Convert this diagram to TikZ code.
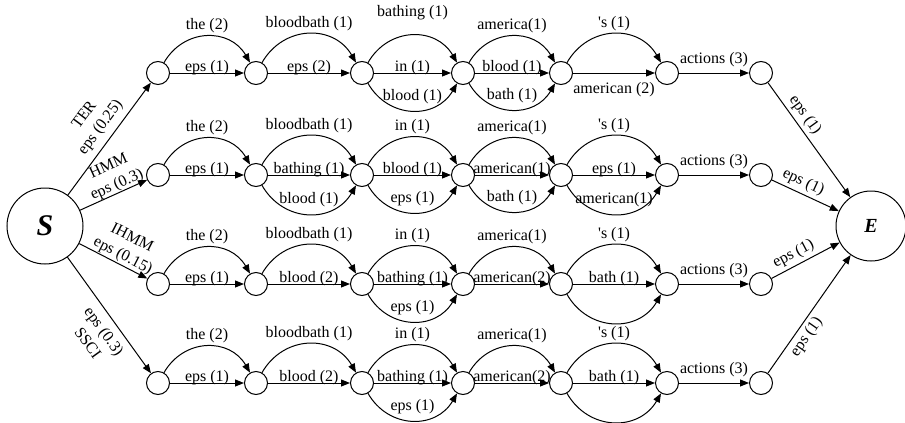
\documentclass[tikz,border=0pt]{standalone}
\usepackage{fontspec}
\setmainfont{Liberation Serif}
\usetikzlibrary{arrows.meta}
\begin{document}
\begin{tikzpicture}[x=1pt,y=1pt,line width=1pt,
  font=\fontsize{16}{21}\selectfont,
  st/.style={circle,draw,minimum size=23pt,inner sep=0pt},
  big/.style={circle,draw,inner sep=0pt,font=\bfseries\itshape},
  arr/.style={-{Triangle[length=9pt,width=7pt]}},
  top/.style={out=60,in=120,looseness=1.2},
  bot/.style={out=-60,in=-120,looseness=1.2},
  lab/.style={anchor=base,inner sep=0pt},
  lon/.style={lab,yshift=2pt},
  ltop/.style={lab,yshift=7pt},
  lbot/.style={lab,yshift=10pt},
  side/.style={sloped,align=center,font=\fontsize{16}{20}\selectfont}]
\useasboundingbox (0,0) rectangle (905,-423);
% nodes
\foreach \rw/\yy in {1/73,2/175,3/284,4/383}{
  \foreach \cl/\xx in {1/158,2/256,3/362,4/463,5/561,6/667,7/761}{
    \node[st] (r\rw n\cl) at (\xx,-\yy) {};
  }
}
\node[big,minimum size=76pt,font=\fontsize{30}{30}\selectfont\bfseries\itshape] (S) at (45,-226) {S};
\node[big,minimum size=70pt,font=\fontsize{20}{20}\selectfont\bfseries\itshape] (E) at (871,-226) {E};
% start edges
\draw[arr] (S) -- node[side,above,pos=0.53,inner sep=6pt]{TER\\eps (0.25)} (r1n1);
\draw[arr] (S) -- node[side,above,pos=0.6,inner sep=0pt]{HMM\\eps (0.3)} (r2n1);
\draw[arr] (S) -- node[side,above,pos=0.58,inner sep=1pt]{IHMM\\eps (0.15)} (r3n1);
\draw[arr] (S) -- node[side,below,pos=0.57,inner sep=7pt]{eps (0.3)\\SSCI} (r4n1);
% end edges
\draw[arr] (r1n7) -- node[sloped,above,pos=0.34]{eps (1)} (E);
\draw[arr] (r2n7) -- node[sloped,above,pos=0.4]{eps (1)} (E);
\draw[arr] (r3n7) -- node[sloped,above,pos=0.4]{eps (1)} (E);
\draw[arr] (r4n7) -- node[sloped,below,pos=0.36]{eps (1)} (E);
% row 1
\draw[arr] (r1n1) to[top] node[ltop]{the (2)} (r1n2);
\draw[arr] (r1n1) -- node[lon]{eps (1)} (r1n2);
\draw[arr] (r1n2) to[top] node[ltop]{bloodbath (1)} (r1n3);
\draw[arr] (r1n2) -- node[lon]{eps (2)} (r1n3);
\draw[arr] (r1n3) to[top] node[ltop,yshift=12pt]{bathing (1)} (r1n4);
\draw[arr] (r1n3) -- node[lon]{in (1)} (r1n4);
\draw[arr] (r1n3) to[bot] node[lbot]{blood (1)} (r1n4);
\draw[arr] (r1n4) to[top] node[ltop]{america(1)} (r1n5);
\draw[arr] (r1n4) -- node[lon]{blood (1)} (r1n5);
\draw[arr] (r1n4) to[bot] node[lbot]{bath (1)} (r1n5);
\draw[arr] (r1n5) to[top] node[ltop]{\textquotesingle s (1)} (r1n6);
\draw[arr] (r1n5) -- node[lab,yshift=-20pt]{american (2)} (r1n6);
\draw[arr] (r1n6) -- node[lab,yshift=10pt]{actions (3)} (r1n7);
% row 2
\draw[arr] (r2n1) to[top] node[ltop]{the (2)} (r2n2);
\draw[arr] (r2n1) -- node[lon]{eps (1)} (r2n2);
\draw[arr] (r2n2) to[top] node[ltop]{bloodbath (1)} (r2n3);
\draw[arr] (r2n2) -- node[lon]{bathing (1)} (r2n3);
\draw[arr] (r2n2) to[bot] node[lbot]{blood (1)} (r2n3);
\draw[arr] (r2n3) to[top] node[ltop]{in (1)} (r2n4);
\draw[arr] (r2n3) -- node[lon]{blood (1)} (r2n4);
\draw[arr] (r2n3) to[bot] node[lbot]{eps (1)} (r2n4);
\draw[arr] (r2n4) to[top] node[ltop]{america(1)} (r2n5);
\draw[arr] (r2n4) -- node[lon]{american(1)} (r2n5);
\draw[arr] (r2n4) to[bot] node[lbot]{bath (1)} (r2n5);
\draw[arr] (r2n5) to[top] node[ltop]{\textquotesingle s (1)} (r2n6);
\draw[arr] (r2n5) -- node[lon]{eps (1)} (r2n6);
\draw[arr] (r2n5) to[bot] node[lbot]{american(1)} (r2n6);
\draw[arr] (r2n6) -- node[lab,yshift=10pt]{actions (3)} (r2n7);
% rows 3 and 4
\foreach \rw in {3,4}{
  \draw[arr] (r\rw n1) to[top] node[ltop]{the (2)} (r\rw n2);
  \draw[arr] (r\rw n1) -- node[lon]{eps (1)} (r\rw n2);
  \draw[arr] (r\rw n2) to[top] node[ltop]{bloodbath (1)} (r\rw n3);
  \draw[arr] (r\rw n2) -- node[lon]{blood (2)} (r\rw n3);
  \draw[arr] (r\rw n3) to[top] node[ltop]{in (1)} (r\rw n4);
  \draw[arr] (r\rw n3) -- node[lon]{bathing (1)} (r\rw n4);
  \draw[arr] (r\rw n3) to[bot] node[lbot]{eps (1)} (r\rw n4);
  \draw[arr] (r\rw n4) to[top] node[ltop]{america(1)} (r\rw n5);
  \draw[arr] (r\rw n4) -- node[lon]{american(2)} (r\rw n5);
  \draw[arr] (r\rw n5) to[top] node[ltop]{\textquotesingle s (1)} (r\rw n6);
  \draw[arr] (r\rw n5) -- node[lon]{bath (1)} (r\rw n6);
  \draw[arr] (r\rw n5) to[bot] (r\rw n6);
  \draw[arr] (r\rw n6) -- node[lab,yshift=10pt]{actions (3)} (r\rw n7);
}
\end{tikzpicture}
\end{document}
